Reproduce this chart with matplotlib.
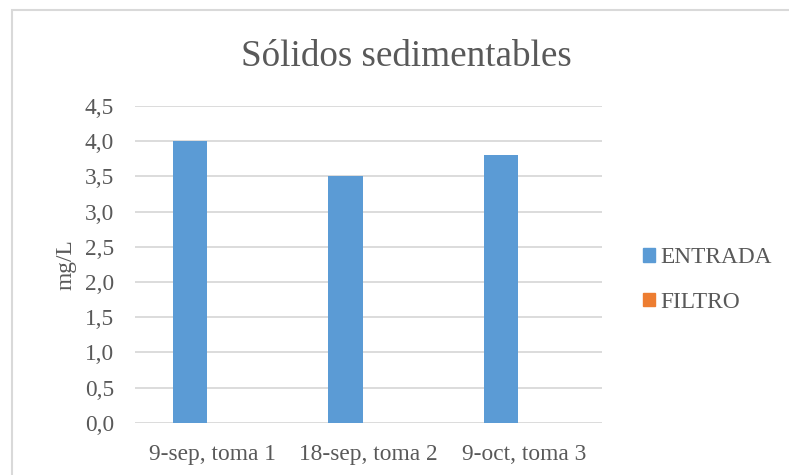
import matplotlib
matplotlib.use("Agg")
import matplotlib.pyplot as plt
from matplotlib.patches import Rectangle, Patch
import numpy as np

categories = ["9-sep, toma 1", "18-sep, toma 2", "9-oct, toma 3"]
entrada = [4.0, 3.5, 3.8]
filtro = [0.0, 0.0, 0.0]
yticks = [0.0, 0.5, 1.0, 1.5, 2.0, 2.5, 3.0, 3.5, 4.0, 4.5]

BLUE = "#5B9BD5"
ORANGE = "#ED7D31"
TEXT = "#595959"
GRID = "#D9D9D9"

plt.rcParams["font.family"] = ["Liberation Serif", "DejaVu Serif"]

fig = plt.figure(figsize=(7.89, 4.75), dpi=100)

# outer chart frame
fig.patches.append(Rectangle((11.5 / 789, -0.05), 1.1, (475 - 10) / 475 + 0.05,
                             transform=fig.transFigure, fill=False,
                             edgecolor=GRID, linewidth=1.5))

ax = fig.add_axes([135 / 789, 52.3 / 475, 466.7 / 789, 316.7 / 475])

x = np.arange(len(categories))
width = 0.2225
offset = 0.147
ax.bar(x - offset, entrada, width, color=BLUE, zorder=3)
ax.bar(x + offset, filtro, width, color=ORANGE, zorder=3)

ax.set_xlim(-0.5, len(categories) - 0.5)
ax.set_ylim(0, 4.5)
ax.set_yticks(yticks)
ax.set_yticklabels([f"{v:.1f}".replace(".", ",") for v in yticks])
ax.set_xticks(x)
ax.set_xticklabels(categories)

ax.grid(axis="y", color=GRID, linewidth=1.3, zorder=0)
ax.set_axisbelow(True)
for side in ["top", "right", "left", "bottom"]:
    ax.spines[side].set_visible(False)
ax.tick_params(axis="both", length=0, labelsize=16.8, colors=TEXT)
ax.tick_params(axis="y", pad=15)
ax.tick_params(axis="x", pad=15)

ax.set_ylabel("mg/L", fontsize=16.8, color=TEXT, labelpad=6)

fig.text(406 / 789, 1 - 57 / 475, "Sólidos sedimentables", ha="center",
         va="center", fontsize=26.7, color=TEXT)

handles = [Patch(color=BLUE, label="ENTRADA"), Patch(color=ORANGE, label="FILTRO")]
fig.legend(handles=handles, loc="center left",
           bbox_to_anchor=(622 / 789, 1 - 280 / 475), frameon=False,
           fontsize=16.8, labelcolor=TEXT, handlelength=0.5, handleheight=0.5,
           handletextpad=0.25, labelspacing=1.0)

fig.savefig("out.png", dpi=100, facecolor="white")
